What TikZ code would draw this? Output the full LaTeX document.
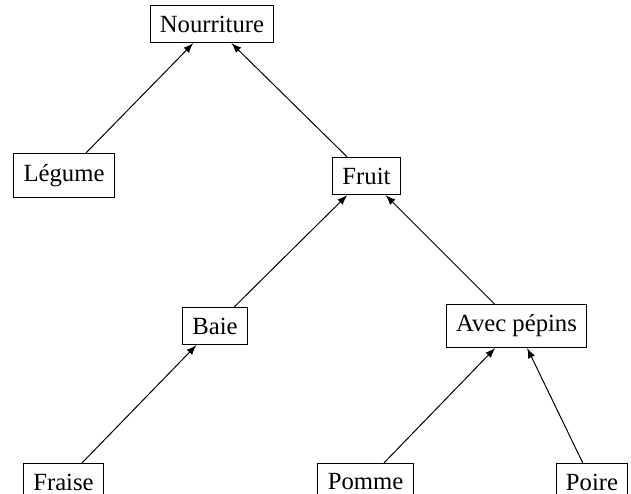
\documentclass[tikz,border=0pt]{standalone}
\usepackage{fontspec}
\setmainfont{Liberation Serif}
\tikzset{
  cat/.style={draw, rectangle, inner xsep=4pt, inner ysep=4.2pt, font=\fontsize{10}{12}\selectfont},
}
\begin{document}
\begin{tikzpicture}[x=0.405pt,y=-0.405pt]
      \useasboundingbox (0,0) rectangle (631,494);
      \draw
        (212,24) node[cat] (nourriture){Nourriture}
        (64,175.5) node[cat] (legume){Légume}
        (366.5,176) node[cat] (fruit){Fruit}
        (215,326) node[cat] (baie){Baie}
        (516.5,326) node[cat] (pepins){Avec pépins}
        (63.5,482) node[cat] (fraise){Fraise}
        (365.5,482) node[cat] (pomme){Pomme}
        (592,482) node[cat] (poire){Poire};
      \begin{scope}[-latex]
        \draw (legume) to (nourriture);
        \draw (fruit) to (nourriture);
        \draw (baie) to (fruit);
        \draw (pepins) to (fruit);
        \draw (fraise) to (baie);
        \draw (pomme) to (pepins);
        \draw (poire) to (pepins);
      \end{scope}
    \end{tikzpicture}
\end{document}
